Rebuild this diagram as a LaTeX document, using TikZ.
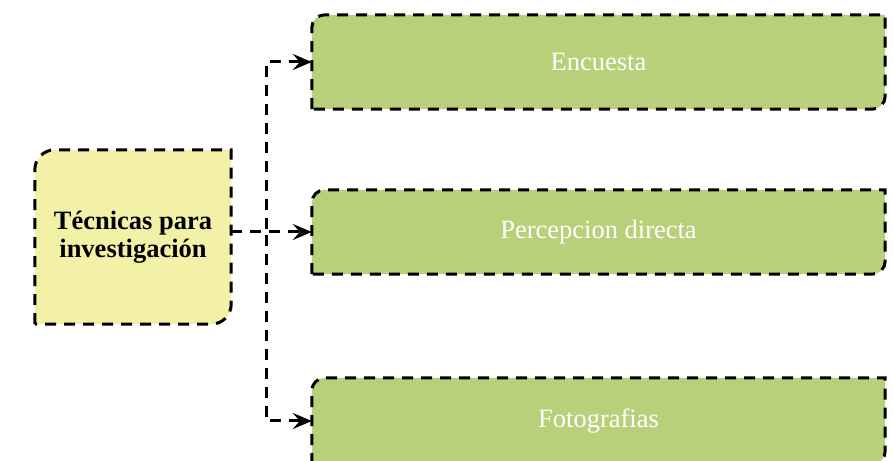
\documentclass[tikz,border=0pt]{standalone}
\usepackage{fontspec}
\setmainfont{Liberation Serif}
\usetikzlibrary{arrows.meta,backgrounds}
\definecolor{boxyellow}{HTML}{F3F0A8}
\definecolor{boxgreen}{HTML}{B9D07A}
\tikzset{
  dashline/.style={line width=3pt, dash pattern=on 11pt off 8pt},
  conn/.style={dashline, -{Stealth[length=19pt,width=16pt,inset=7pt]}},
  mainbox/.style={draw=none, minimum width=196pt, minimum height=174pt, inner sep=0pt,
    align=center, font=\fontsize{26.5}{28}\selectfont\bfseries},
  leafbox/.style={draw=none, minimum width=573pt, inner sep=0pt, text=white,
    font=\fontsize{26.5}{30}\selectfont}
}
\newcommand{\cornerbox}[3]{% node, radius, fill
  \begin{scope}[on background layer]
  \filldraw[dashline, fill=#3]
    (#1.south west) -- ([yshift=-#2]#1.north west)
    arc[start angle=180, end angle=90, radius=#2]
    -- (#1.north east) -- ([yshift=#2]#1.south east)
    arc[start angle=0, end angle=-90, radius=#2] -- cycle;
  \end{scope}}
\begin{document}
\begin{tikzpicture}[x=1pt,y=1pt]
\useasboundingbox (0,0) rectangle (893,460);
\node[mainbox] (L) at (133,223) {Técnicas para\\investigación};
\node[leafbox, minimum height=94pt] (E) at (598.5,398) {\raisebox{-1pt}{Encuesta}};
\node[leafbox, minimum height=84pt] (P) at (598.5,228) {\raisebox{-3pt}{Percepcion directa}};
\node[leafbox, minimum height=86pt] (F) at (598.5,39) {\raisebox{-3pt}{Fotografias}};
\cornerbox{L}{20pt}{boxyellow}
\cornerbox{E}{13pt}{boxgreen}
\cornerbox{P}{13pt}{boxgreen}
\cornerbox{F}{13pt}{boxgreen}
\coordinate (S) at (P.west -| L.east);
\coordinate (T) at ([xshift=35pt]S);
\draw[conn] (S) -- (T) |- (E.west);
\draw[conn] (S) -- (P.west);
\draw[conn] (S) -- (T) |- (F.west);
\end{tikzpicture}
\end{document}
